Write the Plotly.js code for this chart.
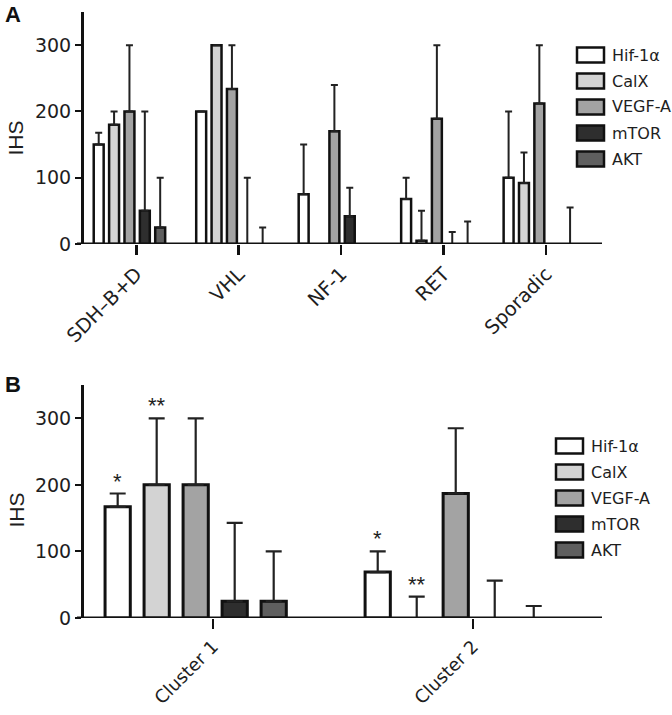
<!DOCTYPE html>
<html>
<head>
<meta charset="utf-8">
<script src="https://cdn.plot.ly/plotly-3.0.1.min.js"></script>
<style>html,body{margin:0;padding:0;background:#fff;}#chart{width:672px;height:715px;}</style>
</head>
<body>
<div id="chart"></div>
<script>
// ---- Data ----
const markers = ['Hif-1α', 'CalX', 'VEGF-A', 'mTOR', 'AKT'];
const colors = ['#ffffff', '#d3d3d3', '#a3a3a3', '#2e2e2e', '#5f5f5f'];

// Panel A
const categoriesA = ['SDH–B+D', 'VHL', 'NF-1', 'RET', 'Sporadic'];
const hifA = [150, 200, 75, 68, 100];
const hifA_err = [18, 0, 75, 32, 100];
const calxA = [180, 300, 0, 5, 92];
const calxA_err = [20, 0, 0, 45, 46];
const vegfA = [200, 234, 170, 189, 212];
const vegfA_err = [100, 66, 70, 111, 88];
const mtorA = [50, 0, 42, 0, 0];
const mtorA_err = [150, 100, 43, 18, 0];
const aktA = [25, 0, 0, 0, 0];
const aktA_err = [75, 25, 0, 34, 55];

// Panel B
const categoriesB = ['Cluster 1', 'Cluster 2'];
const hifB = [167, 69];
const hifB_err = [20, 31];
const calxB = [200, 0];
const calxB_err = [100, 32];
const vegfB = [200, 187];
const vegfB_err = [100, 98];
const mtorB = [25, 0];
const mtorB_err = [118, 56];
const aktB = [25, 0];
const aktB_err = [75, 18];

// significance marks (panel B): Hif-1α and CalX
const starsHifB = ['*', '*'];
const starsCalxB = ['**', '**'];

const yTicks = [0, 100, 200, 300];
const yTitle = 'IHS';

// ---- Build ----
const valsA = [hifA, calxA, vegfA, mtorA, aktA];
const errsA = [hifA_err, calxA_err, vegfA_err, mtorA_err, aktA_err];
const valsB = [hifB, calxB, vegfB, mtorB, aktB];
const errsB = [hifB_err, calxB_err, vegfB_err, mtorB_err, aktB_err];

const OFF0 = -0.415, PITCH = 0.15, BW = 0.097;
const font = 'DejaVu Sans, Arial, sans-serif';
const txt = '#1e1e1e';

const errArr = e => e.map(v => (v === 0 ? null : v));
const lineW = (v, w) => v.map(y => (y === 0 ? 0 : w));

const traces = [];
markers.forEach((m, i) => {
  traces.push({
    type: 'bar', x: categoriesA, y: valsA[i], name: m, xaxis: 'x', yaxis: 'y',
    offset: OFF0 + PITCH * i, width: BW, showlegend: false,
    marker: {color: colors[i], line: {color: '#111', width: lineW(valsA[i], 2.5)}},
    error_y: {type: 'data', array: errArr(errsA[i]), arrayminus: errsA[i].map(() => 0), symmetric: false,
              color: '#222', thickness: 2, width: 3.5}
  });
  traces.push({
    type: 'bar', x: categoriesB, y: valsB[i], name: m, xaxis: 'x2', yaxis: 'y2',
    offset: OFF0 + PITCH * i, width: BW, showlegend: false,
    marker: {color: colors[i], line: {color: '#111', width: lineW(valsB[i], 3)}},
    error_y: {type: 'data', array: errArr(errsB[i]), arrayminus: errsB[i].map(() => 0), symmetric: false,
              color: '#222', thickness: 2.2, width: 8}
  });
});

// pixel -> paper helpers (margins l=84, r=70, t=12, b=97)
const L = 84, R = 70, T = 12, B = 97, W = 672, H = 715;
const pw = W - L - R, ph = H - T - B;
const px = x => (x - L) / pw;
const py = y => (H - B - y) / ph;

const shapes = [];
const annotations = [];

// baseline (x-axis) lines drawn over the traces
['y', 'y2'].forEach(yr => {
  shapes.push({type: 'line', layer: 'above', xref: 'paper', yref: yr,
    x0: px(77), x1: 1, y0: 0, y1: 0, line: {color: '#111', width: 3}});
});

function legend(boxLeft, firstCenter) {
  markers.forEach((m, i) => {
    const c = firstCenter + 26 * i;
    shapes.push({type: 'rect', xref: 'paper', yref: 'paper',
      x0: px(boxLeft), x1: px(boxLeft + 27), y0: py(c + 7.5), y1: py(c - 7.5),
      fillcolor: colors[i], line: {color: '#111', width: 2.5}});
    annotations.push({xref: 'paper', yref: 'paper', x: px(boxLeft + 33), y: py(c),
      xanchor: 'left', yanchor: 'middle', text: m, showarrow: false,
      font: {family: font, size: 16, color: txt}});
  });
}
legend(577, 55);
legend(556, 446);

// y-axis titles
[138, 510].forEach(cy => {
  annotations.push({xref: 'paper', yref: 'paper', x: px(2), y: py(cy), xanchor: 'left', yanchor: 'middle',
    text: yTitle, textangle: -90, showarrow: false, font: {family: 'Arial, sans-serif', size: 21, color: txt}});
});

// stars
[[starsHifB, 0], [starsCalxB, 1]].forEach(([stars, i]) => {
  stars.forEach((s, k) => {
    annotations.push({xref: 'x2', yref: 'y2', x: k + OFF0 + PITCH * i + BW / 2,
      y: valsB[i][k] + errsB[i][k], yanchor: 'bottom', xanchor: 'center', yshift: -2,
      text: s, showarrow: false, font: {family: 'Arial, sans-serif', size: 22, color: txt}});
  });
});

// panel letters
annotations.push({xref: 'paper', yref: 'paper', x: px(3), y: py(14), xanchor: 'left', yanchor: 'middle',
  text: '<b>A</b>', showarrow: false, font: {family: 'Arial, sans-serif', size: 22, color: '#111'}});
annotations.push({xref: 'paper', yref: 'paper', x: px(3), y: py(384), xanchor: 'left', yanchor: 'middle',
  text: '<b>B</b>', showarrow: false, font: {family: 'Arial, sans-serif', size: 22, color: '#111'}});

const xaxisCommon = {
  type: 'category', showline: false, mirror: false,
  ticks: 'outside', ticklen: 10, tickwidth: 2.5, tickcolor: '#111', tickangle: -45,
  tickfont: {family: font, size: 19.5, color: txt}, showgrid: false, zeroline: false, fixedrange: true
};
const yaxisCommon = {
  range: [0, 350], tickvals: yTicks, showline: true, linewidth: 3, linecolor: '#111',
  ticks: 'outside', ticklen: 6, tickwidth: 2, tickcolor: '#111',
  tickfont: {family: font, size: 19, color: txt}, showgrid: false, zeroline: false
};

const layout = {
  width: W, height: H, margin: {l: L, r: R, t: T, b: B},
  paper_bgcolor: '#fff', plot_bgcolor: '#fff', showlegend: false, barmode: 'overlay',
  xaxis: Object.assign({}, xaxisCommon, {anchor: 'y', domain: [0, 1], range: [-0.51, 4.545]}),
  yaxis: Object.assign({}, yaxisCommon, {anchor: 'x', domain: [py(244), 1]}),
  xaxis2: Object.assign({}, xaxisCommon, {anchor: 'y2', domain: [0, 1], range: [-0.496, 1.496],
    tickfont: {family: font, size: 18, color: txt}}),
  yaxis2: Object.assign({}, yaxisCommon, {anchor: 'x2', domain: [0, py(385)]}),
  shapes: shapes, annotations: annotations
};

Plotly.newPlot('chart', traces, layout, {displayModeBar: false, staticPlot: true});
</script>
</body>
</html>
